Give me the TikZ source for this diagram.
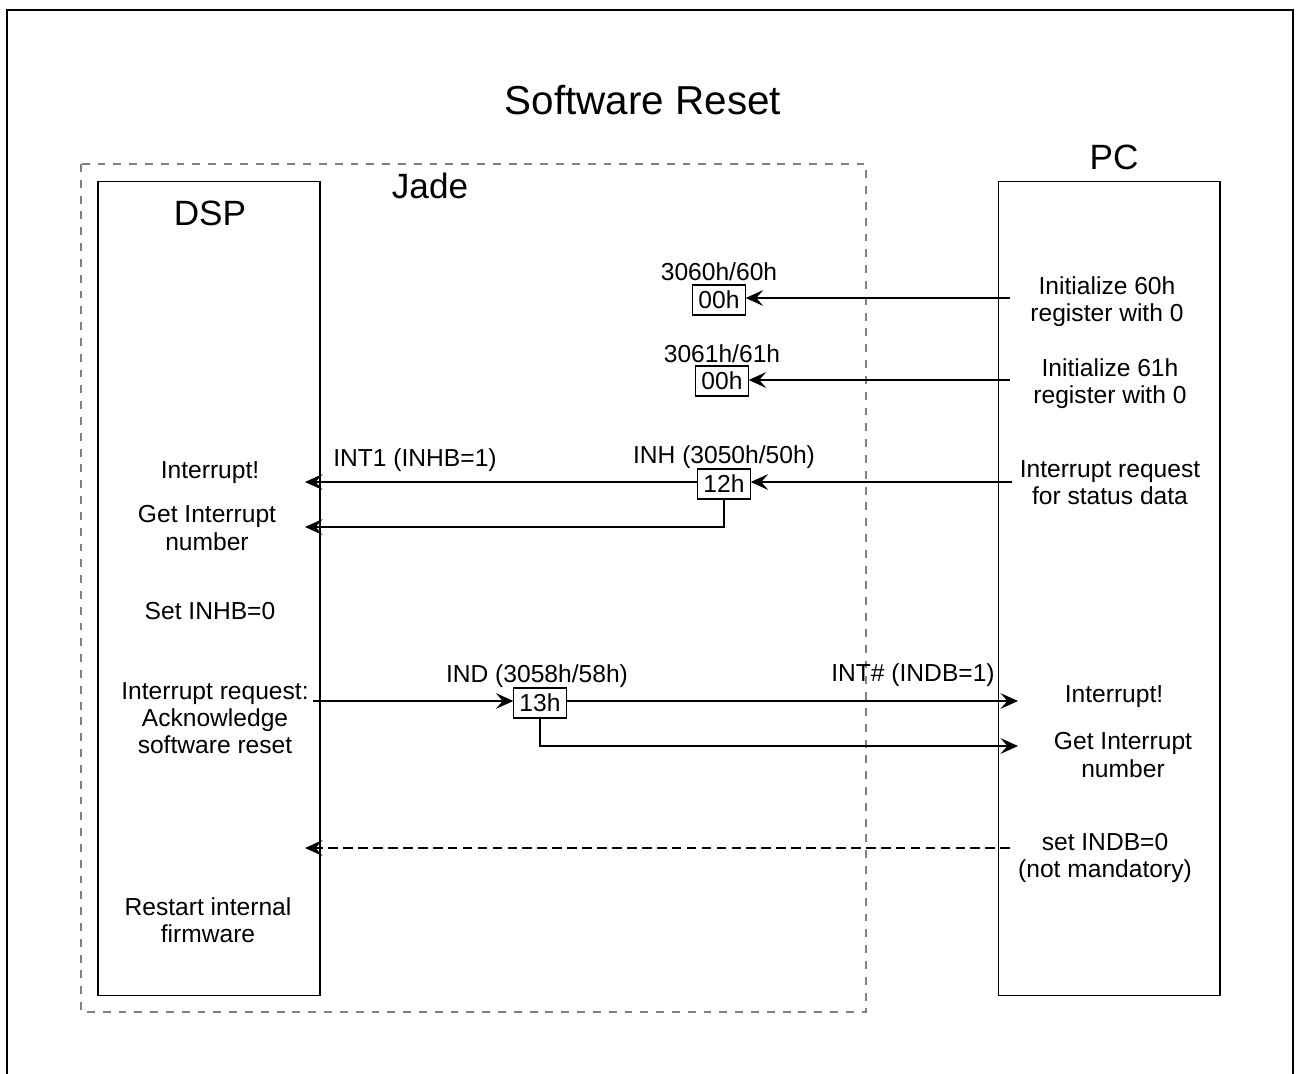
\documentclass[tikz,border=0pt]{standalone}
\usepackage{fontspec}
\setmainfont{Liberation Sans}
\usetikzlibrary{arrows.meta, positioning}

\begin{document}
\begin{tikzpicture}[
    x=0.02cm, y=-0.02cm,
    every node/.style={font=\fontsize{14}{15.5}\selectfont},
    txt/.style={align=center},
    heading/.style={font=\fontsize{20}{24}\selectfont},
    reg/.style={draw,line width=0.6pt,inner xsep=3.2pt,inner ysep=0pt,minimum height=0.6cm},
    unit/.style={draw,line width=0.6pt,outer sep=0pt,minimum width=4.44cm,minimum height=16.3cm},
    arrow/.style={-{Stealth[length=10pt,width=9pt,inset=4pt]}, line width=0.6pt}
]
\useasboundingbox (0,0) rectangle (1296,1073);
\draw[line width=1.4pt] (7,10) rectangle (1293,1095);
\node[font=\fontsize{23}{27}\selectfont] (title) at (643,100) {Software Reset};
\draw[gray, line width=0.6pt, dash pattern=on 4.5pt off 4.5pt] (81,164) rectangle (866,1012);
\node[heading] (jade) at (430,186) {Jade};
\node[unit] (dsp) at (209,588.5) {};
\node[unit] (pc) at (1109,588.5) {};
\node[heading] (dsplbl) at (210,213) {DSP};
\node[heading] (pclbl) at (1114,157) {PC};
% registers
\node[reg] (r60) at (719,300) {00h};
\node (r60lbl) at (719,272) {3060h/60h};
\node[reg] (r61) at (722,381) {00h};
\node (r61lbl) at (722,354) {3061h/61h};
\node[reg] (rinh) at (724,484) {12h};
\node (rinhlbl) at (724,457) {INH (3050h/50h)};
\node[reg] (rind) at (540,703) {13h};
\node (rindlbl) at (537,676) {IND (3058h/58h)};
% DSP side
\node[txt] (d1) at (210,473) {Interrupt!};
\node[txt] (d2) at (207,528) {Get Interrupt\\number};
\node[txt] (d3) at (210,611) {Set INHB=0};
\node[txt] (d4) at (215,718) {Interrupt request:\\Acknowledge\\software reset};
\node[txt] (d5) at (208,920) {Restart internal\\firmware};
% PC side
\node[txt] (p1) at (1107,302) {Initialize 60h\\register with 0};
\node[txt] (p2) at (1110,384) {Initialize 61h\\register with 0};
\node[txt] (p3) at (1110,483) {Interrupt request\\for status data};
\node[txt] (p4) at (1114,697) {Interrupt!};
\node[txt] (p5) at (1123,755) {Get Interrupt\\number};
\node[txt] (p6) at (1105,858) {set INDB=0\\(not mandatory)};
% arrow labels
\node (int1) at (415,460) {INT1 (INHB=1)};
\node (intn) at (913,675) {INT\# (INDB=1)};
% connector ends
\coordinate (pc60) at (1010,298);
\coordinate (pc61) at (1010,380);
\coordinate (pcinh) at (1012,482);
\coordinate (dspint) at (305,482);
\coordinate (dspnum) at (305,527);
\coordinate (dspind) at (313,701);
\coordinate (pcint) at (1018,701);
\coordinate (pcnum) at (1018,746);
\coordinate (pcclr) at (1010,848);
\coordinate (dspclr) at (305,848);
\draw[arrow] (pc60) -- (pc60 -| r60.east);
\draw[arrow] (pc61) -- (pc61 -| r61.east);
\draw[arrow] (pcinh) -- (pcinh -| rinh.east);
\draw[arrow] (dspint -| rinh.west) -- (dspint);
\draw[arrow] (rinh.south) |- (dspnum);
\draw[arrow] (dspind) -- (dspind -| rind.west);
\draw[arrow] (pcint -| rind.east) -- (pcint);
\draw[arrow] (rind.south) |- (pcnum);
\draw[arrow, dash pattern=on 5.5pt off 3pt] (pcclr) -- (dspclr);
\end{tikzpicture}
\end{document}
